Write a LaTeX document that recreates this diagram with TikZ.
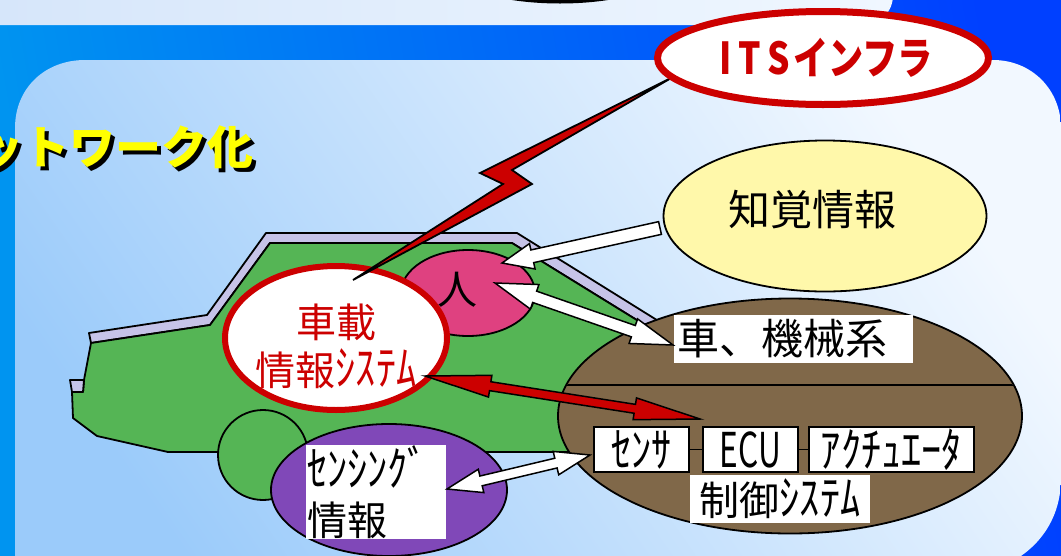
\documentclass[tikz,border=0pt]{standalone}
\usepackage{fontspec}
\usepackage{graphicx}
\setmainfont{Noto Sans CJK JP}
\usetikzlibrary{calc,shapes.geometric}

\definecolor{itsred}{HTML}{CC0000}
\definecolor{carbody}{HTML}{55B555}
\definecolor{roofedge}{HTML}{C6C3E8}
\definecolor{person}{HTML}{DF4180}
\definecolor{percept}{HTML}{FFF8AA}
\definecolor{mech}{HTML}{806849}
\definecolor{sensing}{HTML}{8048B8}
\definecolor{panelA}{HTML}{9BCBFA}
\definecolor{panelB}{HTML}{F2F8FF}
\definecolor{bandA}{HTML}{0094F0}
\definecolor{bandB}{HTML}{0040FF}
\definecolor{stripA}{HTML}{D6E6FA}
\definecolor{stripB}{HTML}{F0F7FF}
\definecolor{titleyellow}{HTML}{FFFF00}

\newcommand{\jsize}[2]{\fontsize{#1}{#2}\selectfont}
% tall, narrow half-width kana
\newcommand{\hwk}[1]{\scalebox{0.84}[1]{\fontsize{48}{48}\selectfont #1}}

% double-headed block arrow: style, end A, end B, head length, head half-width, shaft half-width
\newcommand{\blockdouble}[6]{%
  \coordinate (bd-a) at ($(#2)!#4!(#3)$);
  \coordinate (bd-b) at ($(#3)!#4!(#2)$);
  \path[#1] (#2) -- ($(bd-a)!#5!90:(#3)$) -- ($(bd-a)!#6!90:(#3)$)
    -- ($(bd-b)!#6!-90:(#2)$) -- ($(bd-b)!#5!-90:(#2)$) -- (#3)
    -- ($(bd-b)!#5!90:(#2)$) -- ($(bd-b)!#6!90:(#2)$)
    -- ($(bd-a)!#6!-90:(#3)$) -- ($(bd-a)!#5!-90:(#3)$) -- cycle;}
% single-headed block arrow: style, tail, tip, head length, head half-width, shaft half-width
\newcommand{\blocksingle}[6]{%
  \coordinate (bs-h) at ($(#3)!#4!(#2)$);
  \path[#1] (#3) -- ($(bs-h)!#5!90:(#2)$) -- ($(bs-h)!#6!90:(#2)$)
    -- ($(#2)!#6!-90:(#3)$) -- ($(#2)!#6!90:(#3)$)
    -- ($(bs-h)!#6!-90:(#2)$) -- ($(bs-h)!#5!-90:(#2)$) -- cycle;}

\begin{document}
\begin{tikzpicture}[x=1pt,y=-1pt,
  outline/.style={draw=black, line width=1.8pt, line join=round},
  blob/.style={ellipse, outline, inner sep=0pt},
  redoval/.style={ellipse, draw=itsred, line width=7pt, fill=white, inner sep=0pt},
  whitearrow/.style={fill=white, draw=black, line width=1.5pt, line join=miter},
  redarrow/.style={fill=itsred, draw=black, line width=1.5pt, line join=miter},
  labelbox/.style={fill=white, inner sep=0pt, text=black},
  unitbox/.style={fill=white, draw=black, line width=1.8pt, inner sep=0pt,
    minimum height=45pt, text=black, font=\jsize{40}{44}},
  lbl/.style={inner sep=0pt, text=black}]

\useasboundingbox (0,0) rectangle (1061,555);
\clip (0,0) rectangle (1061,555);

% background: blue frame, pale top strip, light panel
\shade[left color=bandA, right color=bandB, shading angle=100] (0,0) rectangle (1061,555);
\shade[left color=stripA, right color=stripB] (0,-10) -- (893,-10) -- (893,-5)
  .. controls (893,12) and (880,25) .. (863,25) -- (0,25) -- cycle;
\draw[line width=5pt, fill=stripB] (560,-49) ellipse [x radius=130, y radius=50];
\shade[left color=panelA, right color=panelB, shading angle=125]
  (15,600) -- (15,128) .. controls (15,88) and (45,60) .. (85,60) -- (993,60)
  .. controls (1032,60) and (1061,90) .. (1061,128) -- (1061,478)
  .. controls (1061,530) and (1025,565) .. (975,575) -- (15,600) -- cycle;

% heading
\node[lbl, anchor=west, text=black, font=\jsize{46}{46}\bfseries] (title-shadow) at (-19,151) {ットワーク化};
\node[lbl, anchor=west, text=titleyellow, font=\jsize{46}{46}\bfseries] (title) at (-23,147) {ットワーク化};

% car body
\path[outline, fill=roofedge] (89,333) -- (207,315) -- (266,233) -- (517,233) -- (705,350)
  -- (700,359) -- (512,243) -- (270,243) -- (210,325) -- (91,343) -- cycle;
\path[outline, fill=carbody] (91,343) -- (210,325) -- (270,243) -- (512,243) -- (700,359)
  -- (700,452) -- (168,452) -- (97,436) -- (73,418) -- (72,392) -- (83,392) -- (84,380) -- cycle;
\path[outline, fill=roofedge] (70,380) -- (84,380) -- (83,392) -- (72,392) -- cycle;
\node[circle, outline, fill=carbody, minimum size=90pt, inner sep=0pt] (wheel) at (263,455) {};

% person
\node[blob, fill=person, minimum width=134pt, minimum height=86pt] (person) at (468,293) {};
\node[lbl, font=\jsize{40}{40}] (person-text) at (457,290) {人};

% machine system
\node[blob, fill=mech, minimum width=464pt, minimum height=235pt] (mech) at (790,416) {};
\begin{scope}
  \clip (790,416) ellipse [x radius=231, y radius=116.5];
  \draw[line width=1.8pt] (540,385) -- (1040,385);
\end{scope}
\node[labelbox, text width=233pt, inner xsep=3pt, minimum height=48pt, align=left,
  font=\jsize{42}{42}] (mech-label) at (793.5,339) {車、機械系};
\node[unitbox, minimum width=95pt] (sensor) at (641.5,449.5) {\hwk{ｾﾝｻ}};
\node[unitbox, minimum width=95pt] (ecu) at (750.5,449.5) {\scalebox{0.66}[1]{\jsize{48}{48}ECU}};
\node[unitbox, minimum width=165pt] (actuator) at (891.5,449.5) {\hwk{ｱｸﾁｭｴｰﾀ}};
\draw[line width=1.8pt] (sensor.east) -- (ecu.west);
\draw[line width=1.8pt] (ecu.east) -- (actuator.west);
\node[labelbox, minimum width=180pt, minimum height=48pt, font=\jsize{40}{40}] (control) at (780,499) {制御\hwk{ｼｽﾃﾑ}};

% perception
\node[blob, fill=percept, minimum width=323pt, minimum height=151pt] (percept) at (825,216) {};
\node[lbl, font=\jsize{42}{42}] (percept-text) at (812,210) {知覚情報};

% on-board information system
\node[redoval, line width=6pt, minimum width=222pt, minimum height=144pt] (onboard) at (336,338) {};
\node[lbl, text=itsred, align=center, font=\jsize{40}{48}] (onboard-text) at (336,346) {車載\\情報\hwk{ｼｽﾃﾑ}};

% sensing information
\node[blob, fill=sensing, minimum width=236pt, minimum height=132pt] (sensing) at (389,490) {};
\node[labelbox, text width=138pt, inner xsep=1pt, minimum height=94pt, align=left,
  font=\jsize{40}{49}] (sensing-label) at (376,492) {\hwk{ｾﾝｼﾝｸﾞ}\\情報};

% arrow ends
\coordinate (pc-out) at (660,228);
\coordinate (ps-in) at (502,263);
\coordinate (ps-link) at (495,283);
\coordinate (mc-link) at (673,345);
\coordinate (ob-link) at (425,376);
\coordinate (ecu-link) at (700,419);
\coordinate (sn-link) at (447,489);
\coordinate (sr-link) at (590,455);

\blocksingle{whitearrow}{pc-out}{ps-in}{31pt}{13pt}{6.5pt}
\blockdouble{whitearrow}{ps-link}{mc-link}{42pt}{13pt}{6pt}
\blockdouble{whitearrow}{sn-link}{sr-link}{35pt}{12pt}{5pt}
\blockdouble{redarrow}{ob-link}{ecu-link}{66pt}{11pt}{4.5pt}

% radio link from the infrastructure
\coordinate (its-bolt) at (673,77);
\coordinate (ob-bolt) at (353,280);
\path[redarrow, line width=1.8pt] (its-bolt) -- (480,173) -- (503,184) -- (ob-bolt)
  -- (532,184) -- (512,170) -- cycle;

% ITS infrastructure
\node[redoval, minimum width=331pt, minimum height=93pt] (its) at (823,58) {};
\node[lbl, text=itsred, font=\jsize{44}{44}\bfseries] (its-text) at (826,58)
  {\scalebox{0.8}[1]{I\kern9pt T\kern8pt S\kern4pt インフラ}};

\end{tikzpicture}
\end{document}
